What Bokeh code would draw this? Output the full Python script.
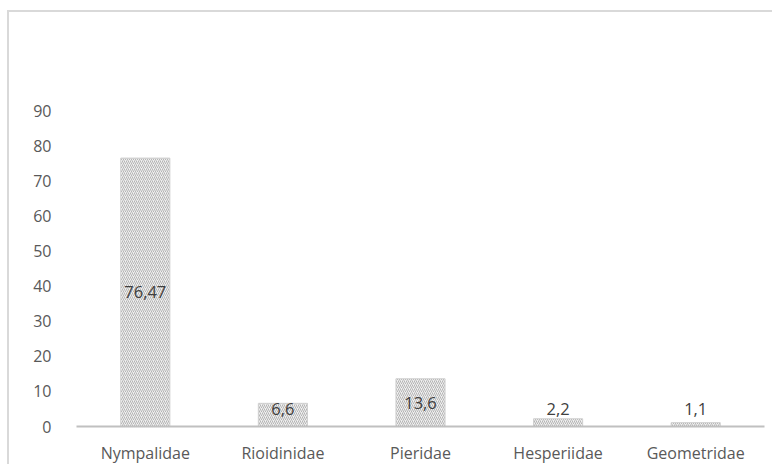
from bokeh.plotting import figure
from bokeh.models import ColumnDataSource, FixedTicker, Range1d, LabelSet
from bokeh.core.properties import value
from bokeh.embed import file_html
from bokeh.resources import INLINE

families = ["Nympalidae", "Rioidinidae", "Pieridae", "Hesperiidae", "Geometridae"]
percent = [76.47, 6.6, 13.6, 2.2, 1.1]
labels = ["76,47", "6,6", "13,6", "2,2", "1,1"]
y_ticks = [0, 10, 20, 30, 40, 50, 60, 70, 80, 90]

label_y = [max(v / 2.0, 5.0) for v in percent]
src = ColumnDataSource(dict(x=families, top=percent, lab=labels, ly=label_y))

p = figure(x_range=families, y_range=Range1d(0, 100), width=765, height=454,
           output_backend="svg", toolbar_location=None,
           min_border_left=67, min_border_right=10, min_border_top=63, min_border_bottom=37)
p.styles = {"border-top": "2px solid #d9d9d9", "border-left": "2px solid #d9d9d9",
            "margin-left": "7px", "margin-top": "10px"}
p.outline_line_color = None
p.background_fill_color = "white"
p.border_fill_color = "white"
p.xgrid.visible = False
p.ygrid.visible = False

p.vbar(x="x", top="top", width=0.357, source=src, fill_color="#efefef",
       line_color="#d0d0d0", line_width=1, hatch_pattern="/", hatch_color="#b4b4b4",
       hatch_scale=4, hatch_weight=1)

p.add_layout(LabelSet(x="x", y="ly", text="lab", source=src, text_align="center",
                      text_baseline="middle", text_font=value("Open Sans"),
                      text_font_size="16.5px", text_color="#404040"))

p.yaxis.ticker = FixedTicker(ticks=y_ticks)
p.yaxis.axis_line_color = None
p.yaxis.major_tick_line_color = None
p.yaxis.minor_tick_line_color = None
p.yaxis.major_label_standoff = 19
p.yaxis.major_label_text_font = "Open Sans"
p.yaxis.major_label_text_font_size = "16px"
p.yaxis.major_label_text_color = "#595959"

p.xaxis.axis_line_color = "#c0c0c0"
p.xaxis.axis_line_width = 2
p.xaxis.major_tick_line_color = None
p.xaxis.minor_tick_line_color = None
p.xaxis.major_label_standoff = 9
p.xaxis.major_label_text_font = "Open Sans"
p.xaxis.major_label_text_font_size = "16px"
p.xaxis.major_label_text_color = "#595959"

open("out.html", "w").write(file_html(p, INLINE))
